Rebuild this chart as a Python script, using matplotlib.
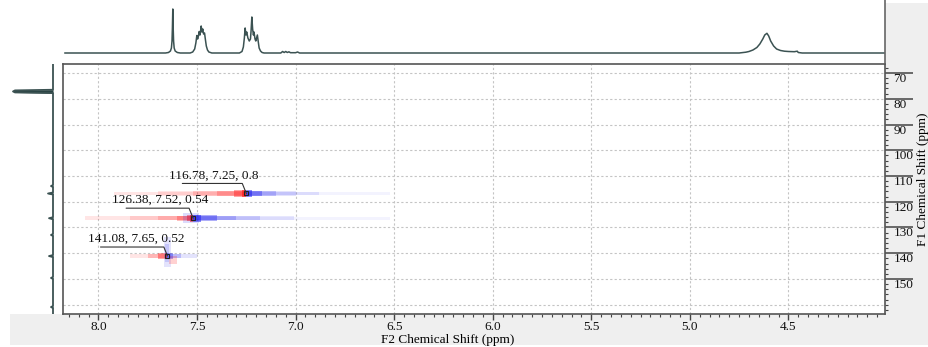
import matplotlib
matplotlib.use("Agg")
import matplotlib.pyplot as plt
from matplotlib.patches import Rectangle
from matplotlib.ticker import MultipleLocator, FixedLocator, FormatStrFormatter

plt.rcParams['font.family'] = ['Liberation Serif', 'DejaVu Serif']

# 1H projection (top): ppm / height above baseline
h1_ppm = [8.17,
          7.660, 7.645, 7.635, 7.630, 7.627, 7.625, 7.623, 7.621, 7.619, 7.616, 7.611, 7.600, 7.585,
          7.535, 7.522, 7.512, 7.506, 7.501, 7.497, 7.493, 7.489, 7.485, 7.482, 7.479, 7.475,
          7.471, 7.467, 7.462, 7.458, 7.453, 7.447, 7.440, 7.425,
          7.285, 7.272, 7.265, 7.260, 7.256, 7.252, 7.248, 7.242, 7.235, 7.229, 7.226, 7.222,
          7.218, 7.214, 7.211, 7.206, 7.202, 7.194, 7.190, 7.185, 7.178, 7.170, 7.160,
          7.075, 7.066, 7.058, 7.050, 7.042, 7.034, 7.026, 7.000, 6.990, 6.980,
          4.750, 4.716, 4.700, 4.680, 4.660, 4.645, 4.630, 4.620, 4.609, 4.600, 4.590, 4.575,
          4.560, 4.540, 4.520, 4.500, 4.470, 4.455, 4.450, 4.430,
          4.00]
h1_int = [0,
          0, 0.5, 2, 5, 12, 25, 44, 25, 12, 5, 2, 0.5, 0,
          0, 1, 4, 10, 17.5, 14, 17, 21.5, 18, 22, 27, 21,
          24, 19, 20, 14, 7, 3, 1, 0,
          0, 1.5, 6, 15, 25, 18, 21, 15, 12, 14, 22, 36,
          24, 18, 21, 14, 12, 18, 12, 5, 2, 0.5, 0,
          0, 1.5, 0.5, 1.5, 0.5, 1.2, 0.3, 0.3, 1.0, 0,
          0, 0.8, 1.5, 3, 5.5, 9, 14, 18, 19.7, 17, 12, 7,
          4, 2.5, 1.8, 1.5, 1.3, 1.8, 0.5, 0,
          0]

# 13C projection (left)
c13_ppm = [66.5, 76.5, 76.75, 77.16, 77.55, 77.8,
           113.5, 113.9, 114.3, 116.4, 116.8, 117.2, 126.0, 126.4, 126.8,
           132.5, 132.9, 133.3, 140.7, 141.1, 141.5, 149.2, 149.6, 150.0,
           160.5, 160.9, 161.3, 163.6]
c13_int = [0, 0, 38, 40, 38, 0,
           0, 2, 0, 0, 5, 0, 0, 4, 0,
           0, 2, 0, 0, 4, 0, 0, 2, 0,
           0, 2, 0, 0]

# picked cross peaks
peak_f1 = [116.78, 126.38, 141.08]
peak_f2 = [7.25, 7.52, 7.65]
peak_val = [0.8, 0.54, 0.52]

# smeared cross-peak signal: F1 centre, F2 from/to, F1 spread, level (+ red / - blue)
smear_f1 = [116.78] * 12 + [126.38] * 13 + [141.08] * 7 + [139.5, 140.0, 142.5]
smear_from = [7.92, 7.70, 7.52, 7.40, 7.31, 7.27,
              7.25, 7.25, 7.25, 7.25, 7.25, 7.25,
              8.07, 7.84, 7.70, 7.60, 7.55, 7.535,
              7.52, 7.52, 7.52, 7.52, 7.52, 7.52, 7.57,
              7.84, 7.75, 7.70, 7.665, 7.65, 7.65, 7.65,
              7.67, 7.665, 7.64]
smear_to = [7.25, 7.25, 7.25, 7.25, 7.25, 7.25,
            6.52, 6.88, 7.00, 7.10, 7.17, 7.22,
            7.52, 7.52, 7.52, 7.52, 7.52, 7.52,
            6.52, 7.01, 7.18, 7.30, 7.40, 7.48, 7.49,
            7.65, 7.65, 7.65, 7.65, 7.50, 7.58, 7.62,
            7.63, 7.64, 7.60]
smear_span = [1.4, 1.6, 1.8, 2.0, 2.4, 2.8,
              1.2, 1.4, 1.6, 1.8, 2.2, 2.6,
              1.4, 1.6, 1.8, 2.0, 2.4, 2.8,
              1.2, 1.4, 1.6, 1.8, 2.2, 2.6, 4.0,
              1.4, 1.8, 2.2, 2.6, 1.4, 1.8, 2.2,
              12.0, 7.0, 3.0]
smear_level = [0.1, 0.1, 0.15, 0.2, 0.35, 0.5,
               -0.05, -0.1, -0.12, -0.2, -0.35, -0.5,
               0.1, 0.12, 0.15, 0.25, 0.4, 0.5,
               -0.05, -0.1, -0.15, -0.2, -0.35, -0.5, -0.15,
               0.1, 0.2, 0.35, 0.5, -0.12, -0.2, -0.35,
               -0.12, -0.15, 0.18]

W, H = 929, 347
fig = plt.figure(figsize=(W / 100, H / 100), dpi=100)


def box(x0, y0, x1, y1):
    return [x0 / W, 1 - y1 / H, (x1 - x0) / W, (y1 - y0) / H]


# grey frame strips
fig.add_artist(Rectangle((885 / W, 2 / H), 44 / W, 342 / H, transform=fig.transFigure,
                         facecolor='#efefef', edgecolor='none', zorder=-5))
fig.add_artist(Rectangle((10 / W, 2 / H), 919 / W, 31 / H, transform=fig.transFigure,
                         facecolor='#efefef', edgecolor='none', zorder=-5))

xlim = (8.18, 4.01)
ylim = (163.6, 66.5)

# main 2D panel
ax = fig.add_axes(box(63, 64, 885, 314))
for f1, a, b, sp, lv in zip(smear_f1, smear_from, smear_to, smear_span, smear_level):
    col = '#ff0000' if lv > 0 else '#1a1aee'
    ax.barh(f1, b - a, left=a, height=sp, color=col, alpha=abs(lv), linewidth=0, zorder=2)

ax.plot(peak_f2, peak_f1, 's', ms=3.2, mfc='none', mec='#222222', mew=0.8, zorder=4)

# label + underline + leader, offsets in pixels from the peak
text_dx = [-77, -81, -79]
line_dx = [-64, -67, -67]
line_dy = [10, 10, 9]
for i in range(len(peak_f1)):
    xy = (peak_f2[i], peak_f1[i])
    ax.annotate('', xy=xy, xytext=(line_dx[i], line_dy[i]), textcoords='offset pixels',
                arrowprops=dict(arrowstyle='-', color='#333333', lw=0.8, shrinkA=0, shrinkB=0,
                                connectionstyle='angle,angleA=0,angleB=112,rad=0'), zorder=4)
    ax.annotate(f"{peak_f1[i]}, {peak_f2[i]}, {peak_val[i]}", xy=xy,
                xytext=(text_dx[i], line_dy[i] + 5), textcoords='offset pixels',
                ha='left', va='baseline', fontsize=9.5, color='#111111', zorder=5)

ax.set_xlim(*xlim)
ax.set_ylim(*ylim)
ax.xaxis.set_major_locator(MultipleLocator(0.5))
ax.xaxis.set_minor_locator(MultipleLocator(0.05))
ax.xaxis.set_major_formatter(FormatStrFormatter('%.1f'))
ax.yaxis.set_major_locator(FixedLocator(range(70, 151, 10)))
ax.yaxis.set_minor_locator(MultipleLocator(2))
ax.yaxis.tick_right()
ax.tick_params(axis='x', which='major', length=4, width=1, color='#444444', labelsize=9.5,
               pad=1, labelcolor='#111111')
ax.tick_params(axis='x', which='minor', length=2.5, width=0.8, color='#444444')
ax.tick_params(axis='y', which='major', length=20, width=1.1, color='#444444', labelsize=9.5,
               pad=-14, labelcolor='#111111')
ax.tick_params(axis='y', which='minor', length=2.5, width=0.8, color='#444444')
for lab in ax.get_yticklabels():
    lab.set_va('top')
ax.grid(True, which='major', color='#c4c4c4', lw=0.8, ls=(0, (2, 2)))
ax.axhline(160, color='#c4c4c4', lw=0.8, ls=(0, (2, 2)), zorder=0.5)
ax.set_axisbelow(True)
for s in ax.spines.values():
    s.set_color('#555555')
    s.set_linewidth(1.2)

ax.set_xlabel('F2 Chemical Shift (ppm)', fontsize=9.5)
ax.xaxis.set_label_coords(0.468, -0.082)
ax.yaxis.set_label_position('right')
ax.set_ylabel('F1 Chemical Shift (ppm)', fontsize=9.5, rotation=90, ha='center', va='center')
ax.yaxis.set_label_coords(1.046, 0.54)

# top 1H projection
axt = fig.add_axes(box(63, 0, 885, 63))
axt.plot(h1_ppm, h1_int, color='#3b5252', lw=1.1)
axt.set_xlim(*xlim)
axt.set_ylim(-10, 53)
axt.set_xticks([])
axt.set_yticks([])
axt.patch.set_alpha(0)
for k, s in axt.spines.items():
    s.set_visible(k == 'right')
axt.spines['right'].set_color('#666666')
axt.spines['right'].set_linewidth(1.2)

# left 13C projection
axl = fig.add_axes(box(0, 64, 55, 314))
axl.fill_betweenx(c13_ppm, 0, c13_int, color='#2a4444', lw=0)
axl.plot(c13_int, c13_ppm, color='#3b5252', lw=1.3)
axl.set_xlim(53, -2)
axl.set_ylim(*ylim)
axl.set_xticks([])
axl.set_yticks([])
axl.patch.set_alpha(0)
for s in axl.spines.values():
    s.set_visible(False)

fig.savefig('out.png', dpi=100)
